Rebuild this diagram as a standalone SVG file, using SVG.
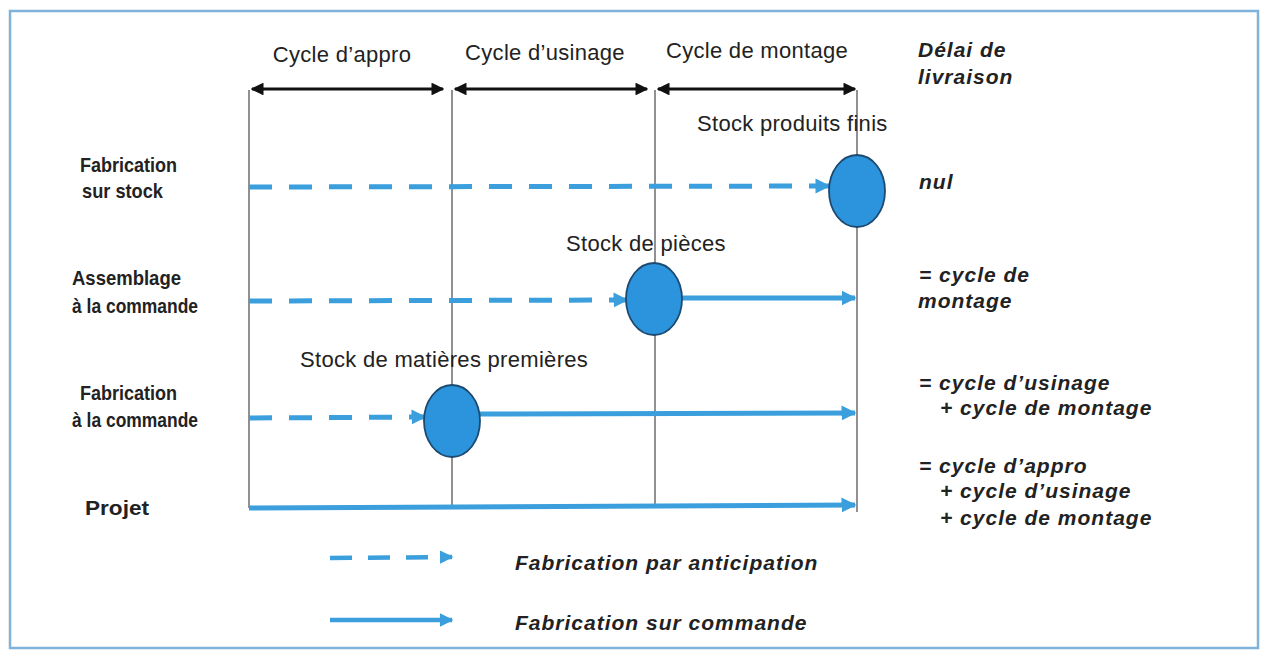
<svg xmlns="http://www.w3.org/2000/svg" width="1267" height="657" viewBox="0 0 1267 657">
<defs>
<marker id="ah" viewBox="0 0 10 10" refX="9" refY="5" markerWidth="3" markerHeight="3.2" orient="auto" markerUnits="strokeWidth"><path d="M0,0 L10,5 L0,10 z" fill="#3a9fdc"/></marker>
<marker id="bk" viewBox="0 0 10 10" refX="9" refY="5" markerWidth="4" markerHeight="4" orient="auto-start-reverse" markerUnits="strokeWidth"><path d="M0,0 L10,5 L0,10 z" fill="#111"/></marker>
<style>
.t{font-family:"Liberation Sans",Arial,sans-serif;font-size:22px;letter-spacing:0.3px;fill:#222}
.b{font-family:"Liberation Sans",Arial,sans-serif;font-size:21px;font-weight:bold;fill:#222}
.bi{font-family:"Liberation Sans",Arial,sans-serif;font-size:21px;letter-spacing:1px;font-weight:bold;font-style:italic;fill:#222}
.v{stroke:#555;stroke-width:1.3;fill:none}
.dash{stroke:#3a9fdc;stroke-width:5;stroke-dasharray:23 17;fill:none}
.sol{stroke:#3a9fdc;stroke-width:5;fill:none}
.blk{stroke:#111;stroke-width:3.2;fill:none}
.stock{fill:#2b94dc;stroke:#1d4a70;stroke-width:1.8}
</style>
</defs>
<rect x="10" y="11" width="1248" height="637" fill="#fff" stroke="#7fb3d9" stroke-width="2.5"/>

<g id="grid">
<line class="v" x1="249" y1="90" x2="249" y2="508"/>
<line class="v" x1="452" y1="90" x2="452" y2="508"/>
<line class="v" x1="655" y1="90" x2="655" y2="508"/>
<line class="v" x1="857" y1="90" x2="857" y2="512"/>
</g>

<g id="cycles">
<line class="blk" x1="252" y1="89" x2="443" y2="89" marker-start="url(#bk)" marker-end="url(#bk)"/>
<line class="blk" x1="455" y1="89" x2="647" y2="89" marker-start="url(#bk)" marker-end="url(#bk)"/>
<line class="blk" x1="658" y1="89" x2="855" y2="89" marker-start="url(#bk)" marker-end="url(#bk)"/>
<text class="t" x="342" y="62" text-anchor="middle">Cycle d’appro</text>
<text class="t" x="545" y="60" text-anchor="middle">Cycle d’usinage</text>
<text class="t" x="757" y="58" text-anchor="middle">Cycle de montage</text>
</g>

<g id="connectors">
<line class="dash" x1="249" y1="187" x2="829" y2="186" marker-end="url(#ah)"/>
<line class="dash" x1="249" y1="301" x2="627" y2="300" marker-end="url(#ah)"/>
<line class="dash" x1="249" y1="418" x2="425" y2="417" marker-end="url(#ah)"/>
<line class="sol" x1="682" y1="298" x2="855" y2="298" marker-end="url(#ah)"/>
<line class="sol" x1="480" y1="414" x2="855" y2="413" marker-end="url(#ah)"/>
<line class="sol" x1="249" y1="508" x2="855" y2="505" marker-end="url(#ah)"/>
</g>

<g id="stock-pf">
<ellipse class="stock" cx="857" cy="191" rx="28" ry="36"/>
<text class="t" x="697" y="131">Stock produits finis</text>
</g>
<g id="stock-pieces">
<ellipse class="stock" cx="654" cy="299" rx="28" ry="36"/>
<text class="t" x="566" y="251">Stock de pièces</text>
</g>
<g id="stock-mp">
<ellipse class="stock" cx="452" cy="421" rx="28" ry="36"/>
<text class="t" x="300" y="367">Stock de matières premières</text>
</g>

<g id="row-labels">
<text class="b" x="80" y="172" textLength="97" lengthAdjust="spacingAndGlyphs">Fabrication</text>
<text class="b" x="82" y="198" textLength="81" lengthAdjust="spacingAndGlyphs">sur stock</text>
<text class="b" x="72" y="285" textLength="109" lengthAdjust="spacingAndGlyphs">Assemblage</text>
<text class="b" x="72" y="313" textLength="126" lengthAdjust="spacingAndGlyphs">à la commande</text>
<text class="b" x="80" y="400" textLength="97" lengthAdjust="spacingAndGlyphs">Fabrication</text>
<text class="b" x="72" y="427" textLength="126" lengthAdjust="spacingAndGlyphs">à la commande</text>
<text class="b" x="85" y="515" textLength="64" lengthAdjust="spacingAndGlyphs">Projet</text>
</g>

<g id="delais">
<text class="bi" x="918" y="57">Délai de</text>
<text class="bi" x="918" y="84">livraison</text>
<text class="bi" x="919" y="189">nul</text>
<text class="bi" x="919" y="282">= cycle de</text>
<text class="bi" x="918" y="308">montage</text>
<text class="bi" x="919" y="390">= cycle d’usinage</text>
<text class="bi" x="940" y="415">+ cycle de montage</text>
<text class="bi" x="919" y="473">= cycle d’appro</text>
<text class="bi" x="940" y="498">+ cycle d’usinage</text>
<text class="bi" x="940" y="525">+ cycle de montage</text>
</g>

<g id="legend">
<line class="dash" x1="330" y1="558" x2="452" y2="557" style="stroke-width:4.5;stroke-dasharray:22 16" marker-end="url(#ah)"/>
<line class="sol" x1="330" y1="620" x2="452" y2="620" style="stroke-width:4.5" marker-end="url(#ah)"/>
<text class="bi" x="515" y="570">Fabrication par anticipation</text>
<text class="bi" x="515" y="630">Fabrication sur commande</text>
</g>
</svg>
